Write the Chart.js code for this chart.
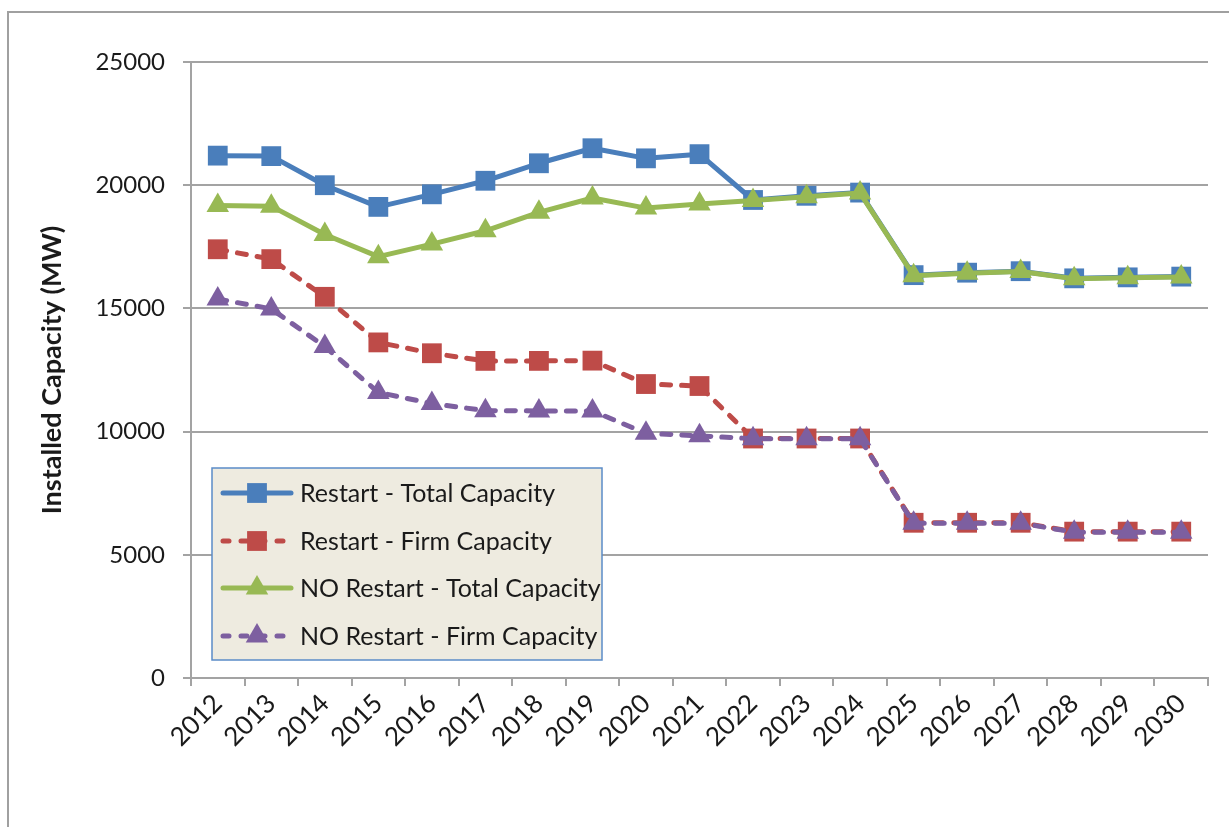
<!DOCTYPE html>
<html>
<head>
<meta charset="utf-8">
<style>
  html, body { margin: 0; padding: 0; background: #fff; }
  #wrap { width: 1229px; height: 827px; position: relative; }
</style>
<script src="https://cdn.jsdelivr.net/npm/chart.js@4/dist/chart.umd.min.js"></script>
</head>
<body>
<div id="wrap"><canvas id="capacityChart" width="1229" height="827"></canvas></div>
<script>
// 연도별 설비용량 데이터 (MW)
const years = ['2012', '2013', '2014', '2015', '2016', '2017', '2018', '2019', '2020', '2021',
	'2022', '2023', '2024', '2025', '2026', '2027', '2028', '2029', '2030'];
const restartTotal = [21200, 21180, 20000, 19120, 19630, 20180, 20890, 21500, 21090, 21260,
	19400, 19570, 19700, 16350, 16450, 16510, 16220, 16260, 16290];
const restartFirm = [17400, 17000, 15470, 13620, 13180, 12870, 12870, 12880, 11930, 11850,
	9720, 9720, 9720, 6300, 6300, 6300, 5940, 5940, 5940];
const noRestartTotal = [19180, 19150, 18000, 17100, 17610, 18150, 18900, 19480, 19070, 19240,
	19380, 19530, 19680, 16330, 16430, 16500, 16200, 16240, 16270];
const noRestartFirm = [15380, 14980, 13450, 11590, 11140, 10850, 10840, 10840, 9930, 9830,
	9710, 9710, 9710, 6280, 6280, 6280, 5920, 5920, 5920];
const seriesNames = ['Restart - Total Capacity', 'Restart - Firm Capacity',
	'NO Restart - Total Capacity', 'NO Restart - Firm Capacity'];
const yTicks = [0, 5000, 10000, 15000, 20000, 25000];

const FONT = 'Lato';
const gridColor = '#a3a3a3';

function makeSet(label, data, color, style, dashed, order) {
	return {
		label: label,
		data: data,
		borderColor: color,
		backgroundColor: color,
		borderWidth: 5,
		borderDash: dashed ? [9, 11] : [],
		borderCapStyle: 'round',
		borderJoinStyle: 'round',
		tension: 0,
		pointStyle: style,
		pointRadius: style == 'rect' ? 14 : 13,
		pointHoverRadius: style == 'rect' ? 14 : 13,
		pointBorderWidth: 0,
		pointBackgroundColor: color,
		order: order
	};
}

// 바깥 테두리
const frame = {
	id: 'frame',
	beforeDraw(chart) {
		const {ctx} = chart;
		ctx.save();
		ctx.strokeStyle = '#a0a0a0';
		ctx.lineWidth = 2;
		ctx.beginPath();
		ctx.moveTo(8, 827);
		ctx.lineTo(8, 12);
		ctx.lineTo(1229, 12);
		ctx.stroke();
		ctx.restore();
	}
};

// 차트 안쪽 범례
const innerLegend = {
	id: 'innerLegend',
	afterDraw(chart) {
		const {ctx} = chart;
		ctx.save();
		ctx.fillStyle = '#eeebe0';
		ctx.fillRect(212, 468, 390, 192);
		ctx.strokeStyle = '#5b8cc8';
		ctx.lineWidth = 1.5;
		ctx.strokeRect(212, 468, 390, 192);

		const rows = [493, 541, 588, 636];
		chart.data.datasets.forEach((ds, i) => {
			const y = rows[i];
			ctx.save();
			ctx.strokeStyle = ds.borderColor;
			ctx.lineWidth = 5;
			ctx.lineCap = 'round';
			ctx.setLineDash(ds.borderDash.length ? [6, 12] : []);
			ctx.beginPath();
			ctx.moveTo(223, y);
			ctx.lineTo(291, y);
			ctx.stroke();
			ctx.restore();
			ctx.fillStyle = ds.backgroundColor;
			Chart.helpers.drawPoint(ctx, {pointStyle: ds.pointStyle, radius: ds.pointRadius, borderWidth: 0}, 257, y);
			ctx.fillStyle = '#1a1a1a';
			ctx.font = '25px ' + FONT;
			ctx.textAlign = 'left';
			ctx.textBaseline = 'middle';
			ctx.fillText(ds.label, 300, y + 1);
		});
		ctx.restore();
	}
};

const ctx = document.getElementById('capacityChart').getContext('2d');
const capacityChart = new Chart(ctx, {
	type: 'line',
	data: {
		labels: years,
		datasets: [
			makeSet(seriesNames[0], restartTotal, '#4a7ebb', 'rect', false, 3),
			makeSet(seriesNames[1], restartFirm, '#be4b48', 'rect', true, 2),
			makeSet(seriesNames[2], noRestartTotal, '#98b954', 'triangle', false, 1),
			makeSet(seriesNames[3], noRestartFirm, '#7d5fa0', 'triangle', true, 0)
		]
	},
	options: {
		responsive: false,
		animation: false,
		layout: {
			padding: {left: 0, top: 62, right: 21, bottom: 0}
		},
		plugins: {
			legend: {display: false},
			tooltip: {enabled: false}
		},
		scales: {
			x: {
				offset: true,
				grid: {
					offset: true,
					drawOnChartArea: false,
					drawTicks: true,
					tickLength: 8,
					color: gridColor,
					lineWidth: 2
				},
				border: {color: gridColor, width: 2},
				ticks: {
					color: '#1a1a1a',
					font: {family: FONT, size: 26},
					minRotation: 45,
					maxRotation: 45,
					autoSkip: false,
					padding: 2
				},
				afterFit(scale) {
					scale.height = 149;
				}
			},
			y: {
				min: 0,
				max: 25000,
				afterBuildTicks(scale) {
					scale.ticks = yTicks.map(v => ({value: v}));
				},
				grid: {
					color: gridColor,
					lineWidth: 2,
					tickLength: 8
				},
				border: {color: gridColor, width: 2},
				ticks: {
					color: '#1a1a1a',
					font: {family: FONT, size: 24},
					padding: 18,
					callback: v => String(v)
				},
				title: {
					display: true,
					text: 'Installed Capacity (MW)',
					color: '#1a1a1a',
					font: {family: FONT, size: 27, weight: 'bold'},
					padding: {top: 36, bottom: 0}
				},
				afterFit(scale) {
					scale.width = 191;
				}
			}
		}
	},
	plugins: [frame, innerLegend]
});
</script>
</body>
</html>
